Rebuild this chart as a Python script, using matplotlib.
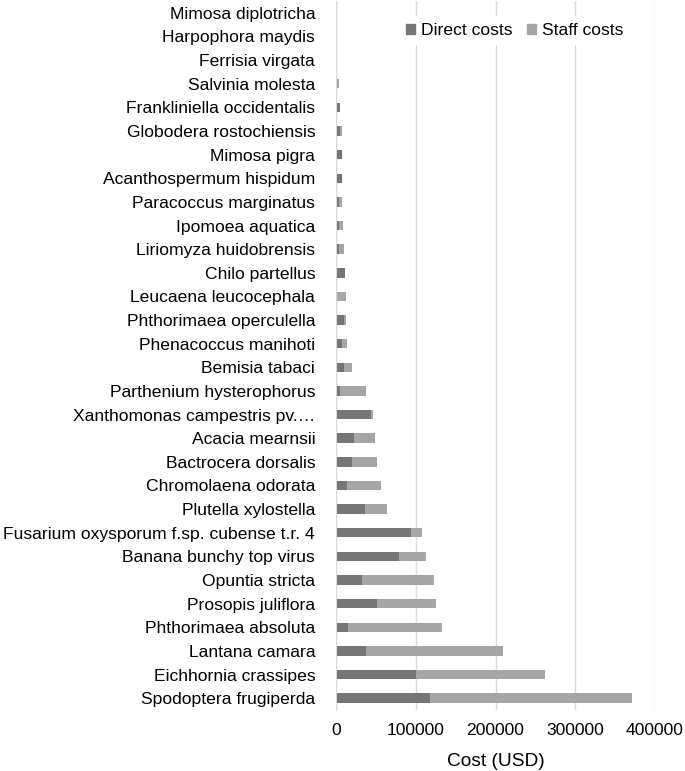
import numpy as np
import matplotlib.pyplot as plt
from matplotlib.patches import Patch

plt.rcParams['font.family'] = ['Liberation Sans', 'DejaVu Sans']

# bottom to top, as drawn
species = [
    'Spodoptera frugiperda', 'Eichhornia crassipes', 'Lantana camara',
    'Phthorimaea absoluta', 'Prosopis juliflora', 'Opuntia stricta',
    'Banana bunchy top virus', 'Fusarium oxysporum f.sp. cubense t.r. 4',
    'Plutella xylostella', 'Chromolaena odorata', 'Bactrocera dorsalis',
    'Acacia mearnsii', 'Xanthomonas campestris pv.…', 'Parthenium hysterophorus',
    'Bemisia tabaci', 'Phenacoccus manihoti', 'Phthorimaea operculella',
    'Leucaena leucocephala', 'Chilo partellus', 'Liriomyza huidobrensis',
    'Ipomoea aquatica', 'Paracoccus marginatus', 'Acanthospermum hispidum',
    'Mimosa pigra', 'Globodera rostochiensis', 'Frankliniella occidentalis',
    'Salvinia molesta', 'Ferrisia virgata', 'Harpophora maydis',
    'Mimosa diplotricha',
]
direct_costs = [117500, 100000, 37000, 15500, 51000, 32000, 79500, 94000,
                36500, 14000, 19500, 22500, 44000, 4500, 10000, 8000, 10000,
                0, 11000, 4000, 4000, 3500, 7000, 7000, 5000, 4500, 0, 0, 0, 0]
staff_costs = [253500, 161500, 173000, 117000, 75000, 91000, 33500, 13500,
               28000, 43000, 31500, 27000, 2000, 33500, 9500, 5500, 2500,
               12000, 0, 6500, 5000, 4000, 500, 500, 2000, 0, 4200, 0, 0, 0]

dark = '#767676'
light = '#a6a6a6'

fig = plt.figure(figsize=(6.85, 7.71), dpi=100)
ax = fig.add_axes([336 / 685, 1 - 710 / 771, (655 - 336) / 685, 709 / 771])

y = np.arange(len(species))
ax.barh(y, direct_costs, height=0.4, color=dark, zorder=3)
ax.barh(y, staff_costs, left=direct_costs, height=0.4, color=light, zorder=3)

ax.set_ylim(-0.5, len(species) - 0.5)
ax.set_xlim(0, 400000)
ax.set_yticks(y)
ax.set_yticklabels(species, fontsize=12.6)
ax.set_xticks([0, 100000, 200000, 300000, 400000])
ax.tick_params(axis='x', labelsize=12.6, length=0, pad=9.5)
ax.tick_params(axis='y', length=0, pad=15)
ax.set_xlabel('Cost (USD)', fontsize=13.8, labelpad=11)

ax.grid(axis='x', color='#d9d9d9', linewidth=1, zorder=0)
for side in ['top', 'right', 'bottom']:
    ax.spines[side].set_visible(False)
ax.spines['left'].set_color('#d9d9d9')
ax.spines['left'].set_zorder(4)

handles = [Patch(color=dark, label='Direct costs'),
           Patch(color=light, label='Staff costs')]
leg = ax.legend(handles=handles, loc='upper left',
                bbox_to_anchor=(399 / 685, 1 - 16 / 771),
                bbox_transform=fig.transFigure,
                ncol=2, frameon=True, fontsize=12.6, handlelength=0.5,
                handleheight=0.5, handletextpad=0.35, columnspacing=0.85,
                borderpad=0.4, borderaxespad=0)
leg.get_frame().set_edgecolor('none')
leg.get_frame().set_facecolor('white')
leg.get_frame().set_alpha(1)
leg.set_zorder(5)

fig.savefig('out.png', dpi=100)
